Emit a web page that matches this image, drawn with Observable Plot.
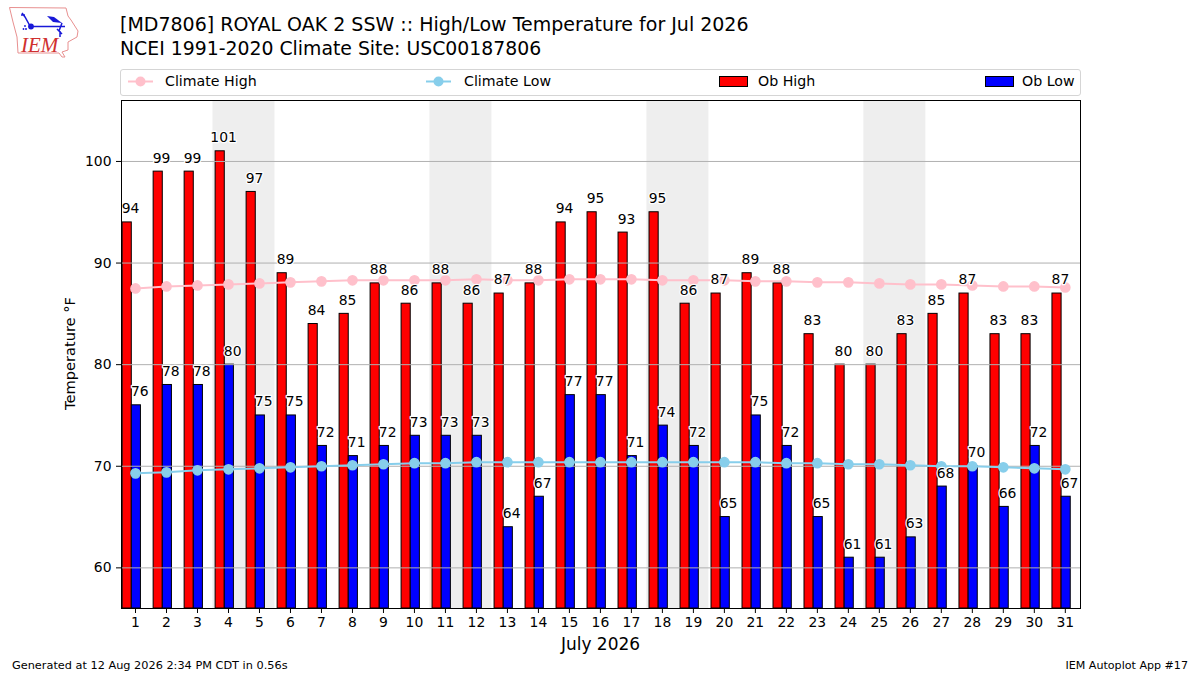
<!DOCTYPE html>
<html><head><meta charset="utf-8">
<script src="https://cdn.jsdelivr.net/npm/d3@7"></script>
<script src="https://cdn.jsdelivr.net/npm/@observablehq/plot@0.6"></script>
<style>
html,body{margin:0;padding:0;background:#fff;width:1200px;height:675px;overflow:hidden;font-family:"DejaVu Sans",sans-serif;color:#000}
#chart{position:absolute;left:0;top:0}
.t{position:absolute;white-space:nowrap}
#title{left:120px;top:13px;font-size:19px;line-height:23.5px}
#title span{font-size:18.85px}
#legend{position:absolute;left:120px;top:69px;width:959px;height:25px;border:1px solid #d5d5d5;border-radius:3px;background:#fff}
#legend .t{font-size:14.2px;top:3px;line-height:17px}
#legend svg{position:absolute;top:0}
#footL{left:12px;top:659px;font-size:11.3px}
#footR{right:12px;top:659px;font-size:11.1px}
#logo{position:absolute;left:0;top:0}
</style></head><body>
<div id="chart"></div>
<svg id="logo" width="90" height="65" viewBox="0 0 90 65">
<path d="M9.5,7.5 L66,8 L68,16 L71,20 L78,31 L77,37 L68,42 L68,50 L62,52 L65,57 L62,57 L59,53 L18,53 L17,37 L13,22 Z" fill="#fff" stroke="#e89090" stroke-width="1"/>
<g stroke="#1818d8" fill="none" stroke-width="1.5"><path d="M22,13 L25,17 L30,26 M21,15 L25,15 M31,26.5 H65 M62,23 L59,31 M57,29 L62,34 M60,31 V37"/></g>
<circle cx="31" cy="26.5" r="2.9" fill="#1818d8"/>
<path d="M47,16 L54,17 L62,23 L53,22 Z" fill="#1818d8"/>
<circle cx="26" cy="29" r="1" fill="#1818d8"/><circle cx="23.5" cy="29" r="0.9" fill="#1818d8"/><circle cx="25" cy="26" r="0.9" fill="#1818d8"/>
<text x="21" y="51.5" font-family="Liberation Serif" font-style="italic" font-size="21" fill="#d03030">IEM</text>
</svg>
<div id="title" class="t">[MD7806] ROYAL OAK 2 SSW :: High/Low Temperature for Jul 2026<br><span>NCEI 1991-2020 Climate Site: USC00187806</span></div>
<div id="legend"></div>
<div id="footL" class="t">Generated at 12 Aug 2026 2:34 PM CDT in 0.56s</div>
<div id="footR" class="t">IEM Autoplot App #17</div>
<script>
const days = d3.range(1, 32);
const obHigh = [94,99,99,101,97,89,84,85,88,86,88,86,87,88,94,95,93,95,86,87,89,88,83,80,80,83,85,87,83,83,87];
const obLow = [76,78,78,80,75,75,72,71,72,73,73,73,64,67,77,77,71,74,72,65,75,72,65,61,61,63,68,70,66,72,67];
const climateHigh = [87.5,87.7,87.8,87.9,88.0,88.1,88.2,88.3,88.3,88.3,88.3,88.4,88.3,88.3,88.4,88.4,88.4,88.3,88.3,88.3,88.2,88.2,88.1,88.1,88.0,87.9,87.9,87.8,87.7,87.7,87.6];
const climateLow = [69.3,69.4,69.6,69.7,69.8,69.9,70.0,70.1,70.2,70.3,70.3,70.4,70.4,70.4,70.4,70.4,70.4,70.4,70.4,70.4,70.4,70.3,70.3,70.2,70.2,70.1,70.0,70.0,69.9,69.8,69.7];
const weekendStarts = [4, 11, 18, 25];
const yTicks = [60, 70, 80, 90, 100];
const legendItems = ["Climate High", "Climate Low", "Ob High", "Ob Low"];

const floorY = 56;
const rows = days.map((d, i) => ({d, hi: obHigh[i], lo: obLow[i], ch: climateHigh[i], cl: climateLow[i]}));
const font = '"DejaVu Sans", sans-serif';

const plot = Plot.plot({
  width: 1200, height: 675,
  marginLeft: 121, marginRight: 120, marginTop: 100, marginBottom: 67,
  style: {fontFamily: font, fontSize: "13.9px", background: "transparent", color: "#000"},
  x: {type: "linear", domain: [0.548, 31.49]},
  y: {domain: [floorY, 106]},
  marks: [
    Plot.rect(weekendStarts, {x1: d => d - 0.5, x2: d => d + 1.5, y1: floorY, y2: 106, fill: "#eeeeee"}),
    Plot.rect(rows, {x1: d => d.d - 0.415, x2: d => d.d - 0.12, y1: floorY, y2: "hi", fill: "#ff0000", stroke: "#000", strokeWidth: 1, inset: 0}),
    Plot.rect(rows, {x1: d => d.d - 0.12, x2: d => d.d + 0.175, y1: floorY, y2: "lo", fill: "#0000ff", stroke: "#000", strokeWidth: 1, inset: 0}),
    Plot.ruleY(yTicks, {stroke: "#b0b0b0", strokeWidth: 1}),
    Plot.line(rows, {x: "d", y: "ch", stroke: "#ffc0cb", strokeWidth: 2}),
    Plot.dot(rows, {x: "d", y: "ch", r: 4.6, fill: "#ffc0cb", stroke: "#ffc0cb"}),
    Plot.line(rows, {x: "d", y: "cl", stroke: "#87ceeb", strokeWidth: 2}),
    Plot.dot(rows, {x: "d", y: "cl", r: 4.6, fill: "#87ceeb", stroke: "#87ceeb"}),
    Plot.text(rows, {x: d => d.d - 0.12, y: "hi", text: "hi", dx: -1.2, dy: -13.5, fill: "#000", stroke: "#fff", strokeWidth: 2.5, fontSize: 13.9}),
    Plot.text(rows, {x: d => d.d + 0.175, y: "lo", text: "lo", dx: -1.2, dy: -13.5, fill: "#000", stroke: "#fff", strokeWidth: 2.5, fontSize: 13.9}),
    Plot.frame({stroke: "#000", strokeWidth: 1}),
    Plot.axisX({ticks: days, tickFormat: d => d, tickSize: 5, tickPadding: 4, label: null, fontSize: 13.9, stroke: "#000"}),
    Plot.axisY({ticks: yTicks, tickFormat: d => d, tickSize: 5, tickPadding: 5, label: null, fontSize: 13.9, stroke: "#000"}),
    Plot.text(["July 2026"], {frameAnchor: "bottom", dy: 41, text: d => d, fontSize: 17, dx: -0.5}),
    Plot.text(["Temperature °F"], {frameAnchor: "left", textAnchor: "middle", dx: -51, dy: -1, rotate: -90, text: d => d, fontSize: 14.6})
  ]
});
document.getElementById("chart").append(plot);

const lg = document.getElementById("legend");
const keyX = [6, 304, 598, 864];
const textX = [44, 343, 637, 901];
const colors = ["#ffc0cb", "#87ceeb", "#ff0000", "#0000ff"];
legendItems.forEach((name, i) => {
  const t = document.createElement("div");
  t.className = "t"; t.textContent = name; t.style.left = textX[i] + "px";
  lg.append(t);
  const s = d3.create("svg").attr("width", 30).attr("height", 25).style("left", keyX[i] + "px");
  if (i < 2) {
    s.append("line").attr("x1", 1).attr("x2", 26).attr("y1", 11.5).attr("y2", 11.5).attr("stroke", colors[i]).attr("stroke-width", 2);
    s.append("circle").attr("cx", 13.5).attr("cy", 11.5).attr("r", 5).attr("fill", colors[i]);
  } else {
    s.append("rect").attr("x", 0.5).attr("y", 6.5).attr("width", 28).attr("height", 10).attr("fill", colors[i]).attr("stroke", "#000");
  }
  lg.append(s.node());
});
</script>
</body></html>
